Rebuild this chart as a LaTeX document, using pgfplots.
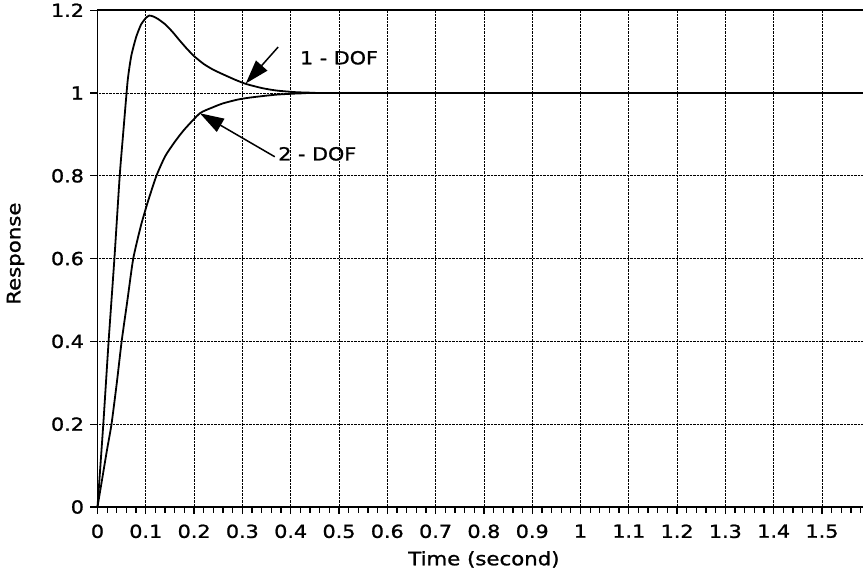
\documentclass[border=0pt]{standalone}
\usepackage{fontspec}
\setmainfont{DejaVu Sans}[FakeStretch=1.15, FakeBold=1.2]
\usepackage{pgfplots}
\pgfplotsset{compat=1.18}
\usetikzlibrary{arrows.meta}

\begin{document}
\begin{tikzpicture}
\useasboundingbox (-97.5pt,-70pt) rectangle (765.5pt,507pt);
\begin{axis}[
  at={(0pt,0pt)}, anchor=south west,
  scale only axis, width=772.8pt, height=496.8pt,
  xmin=0, xmax=1.6, ymin=0, ymax=1.2,
  xtick={0,0.1,0.2,0.3,0.4,0.5,0.6,0.7,0.8,0.9,1,1.1,1.2,1.3,1.4,1.5,1.6},
  xticklabels={0,0.1,0.2,0.3,0.4,0.5,0.6,0.7,0.8,0.9,1,1.1,1.2,1.3,1.4,1.5,},
  ytick={0,0.2,0.4,0.6,0.8,1,1.2},
  minor x tick num=4,
  tick pos=left, tick align=outside,
  major tick length=7pt, minor tick length=6pt,
  every tick/.style={black, line width=1.3pt},
  axis line style={line width=1.8pt},
  grid=major,
  major grid style={black, densely dotted, line width=0.8pt},
  /pgf/number format/assume math mode=true,
  tick label style={font=\fontsize{18}{20}\selectfont},
  xticklabel style={yshift=-7pt},
  yticklabel style={xshift=-3pt},
  xlabel={Time (second)},
  ylabel={Response},
  xlabel style={at={(axis description cs:0.5,0)}, anchor=north, inner sep=0pt,
    yshift=-44pt, font=\fontsize{18.5}{22}\selectfont},
  ylabel style={at={([xshift=-82pt]axis description cs:0,0.51)}, anchor=center,
    font=\fontsize{18.5}{22}\selectfont},
  clip=false,
]
% 1-DOF response
\addplot[black, line width=1.8pt, smooth, tension=0.35] coordinates {
(0,0) (0.012,0.2) (0.023,0.4) (0.035,0.6) (0.046,0.8) (0.053,0.9)
(0.0625,1.03) (0.07,1.09) (0.08,1.135) (0.09,1.165) (0.1,1.181) (0.107,1.187)
(0.115,1.185) (0.125,1.179) (0.14,1.166) (0.155,1.148) (0.17,1.127)
(0.185,1.107) (0.2,1.089) (0.22,1.07) (0.24,1.056) (0.26,1.045)
(0.285,1.032) (0.307,1.022) (0.34,1.012) (0.37,1.006) (0.41,1.002)
(0.45,1.0005) (0.5,1.0) (1.6,1.0)
};
% 2-DOF response
\addplot[black, line width=1.8pt, smooth, tension=0.35] coordinates {
(0,0) (0.01,0.07) (0.02,0.14) (0.029,0.2) (0.04,0.3) (0.05,0.4) (0.062,0.5)
(0.074,0.6) (0.09,0.68) (0.105,0.74) (0.122,0.8) (0.14,0.847) (0.16,0.882)
(0.18,0.912) (0.212,0.951) (0.24,0.966) (0.26,0.975) (0.29,0.984)
(0.316,0.989) (0.37,0.996) (0.42,0.999) (0.5,1.0) (1.6,1.0)
};
\draw[-{Triangle[length=24pt,width=15pt]}, line width=1.5pt]
  (axis cs:0.374,1.111) -- (axis cs:0.307,1.023);
\node[font=\fontsize{18}{21}\selectfont] at (axis cs:0.5,1.085) {1 - DOF};
\draw[-{Triangle[length=24pt,width=15pt]}, line width=1.5pt]
  (axis cs:0.367,0.846) -- (axis cs:0.212,0.951);
\node[font=\fontsize{18}{21}\selectfont] at (axis cs:0.455,0.853) {2 - DOF};
\end{axis}
\end{tikzpicture}
\end{document}
